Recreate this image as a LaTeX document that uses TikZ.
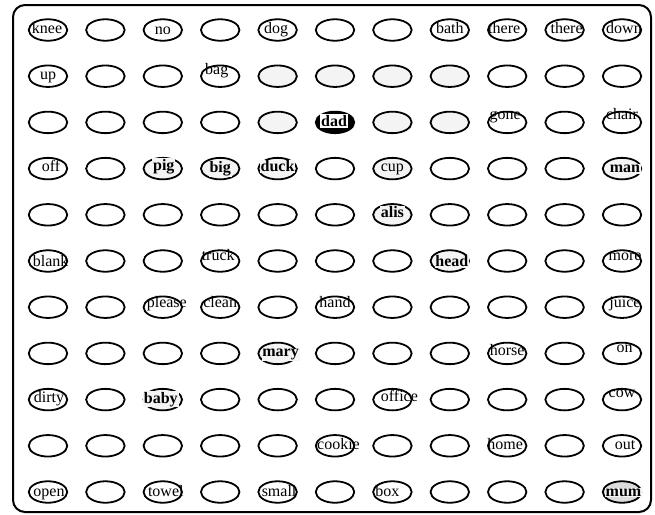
\documentclass[tikz,border=0pt]{standalone}
\usepackage{fontspec}
\setmainfont{Liberation Serif}
\usetikzlibrary{shapes.geometric}
\definecolor{cW}{HTML}{FFFFFF}
\definecolor{cG}{HTML}{F4F4F4}
\definecolor{cK}{HTML}{000000}
\definecolor{cM}{HTML}{DCDCDC}
\begin{document}
\begin{tikzpicture}[x=1pt,y=-1pt,
  cell/.style={ellipse, draw, line width=1.8pt, minimum width=38.5pt, minimum height=21.5pt, inner sep=0pt},
  pl/.style={anchor=base, inner sep=0pt, font=\fontsize{16}{16}\selectfont},
  bd/.style={pl, font=\fontsize{16}{16}\selectfont\bfseries, fill=cG, inner sep=0.8pt},
  cb/.style={pl, fill=cG, inner sep=0.8pt},
  dd/.style={pl, font=\fontsize{16}{16}\selectfont\bfseries, fill=white, inner sep=1pt},
  frame/.style={line width=2pt, rounded corners=12pt}]
\useasboundingbox (0,0) rectangle (655,514);
\draw[frame] (13,5) rectangle (651,512);
\foreach \rowfills [count=\r] in {
  {cW,cW,cW,cW,cW,cW,cW,cW,cW,cW,cW},
  {cW,cW,cW,cW,cG,cG,cG,cG,cW,cW,cW},
  {cW,cW,cW,cW,cG,cK,cG,cG,cW,cW,cW},
  {cW,cW,cG,cG,cG,cW,cG,cW,cW,cW,cG},
  {cW,cW,cW,cW,cW,cW,cG,cW,cW,cW,cW},
  {cW,cW,cW,cW,cW,cW,cW,cG,cW,cW,cW},
  {cW,cW,cW,cW,cW,cW,cW,cW,cW,cW,cW},
  {cW,cW,cW,cW,cG,cW,cW,cW,cW,cW,cW},
  {cW,cW,cG,cW,cW,cW,cW,cW,cW,cW,cW},
  {cW,cW,cW,cW,cW,cW,cW,cW,cW,cW,cW},
  {cW,cW,cW,cW,cW,cW,cW,cW,cW,cW,cM}}
{
  \foreach \f [count=\c] in \rowfills
    \node[cell, fill=\f] (n-\r-\c) at ({48+57.4*(\c-1)}, {30+46.2*(\r-1)}) {};
}
\foreach \r/\c/\t/\dx/\dy/\s in {
  1/1/knee/-1/3.5/pl, 1/3/no/0/4/pl, 1/5/dog/-1.5/3.5/pl, 1/8/bath/0/3.3/pl,
  1/9/there/-3/3/pl, 1/10/there/2/3/pl, 1/11/down/2/3/pl,
  2/1/up/0/3/pl, 2/4/bag/-3.5/-1.5/pl,
  3/6/dad/-1/4/dd, 3/9/gone/-2/-2.5/pl, 3/11/chair/0/-3/pl,
  4/1/off/3/3/pl, 4/3/pig/1/1.5/bd, 4/4/big/0/4/bd, 4/5/duck/0/3/bd,
  4/7/cup/0/3/cb, 4/11/man/3/4/bd,
  5/7/alis/0/3/bd,
  6/1/blank/2.7/5.7/pl, 6/4/truck/-2/-0.5/pl, 6/8/head/2/5.7/bd, 6/11/more/3/-0.5/pl,
  7/3/please/4/0/pl, 7/4/clean/0/0/pl, 7/6/hand/0/0/pl, 7/11/juice/3/0/pl,
  8/5/mary/3/3.5/bd, 8/9/horse/0/2/pl, 8/11/on/2.5/-1.2/pl,
  9/1/dirty/1/3/pl, 9/3/baby/-2/3.5/bd, 9/7/office/7/1.5/pl, 9/11/cow/0/-2.5/pl,
  10/6/cookie/3.5/4/pl, 10/9/home/-2/4/pl, 10/11/out/3/4/pl,
  11/1/open/1/4.7/pl, 11/3/towel/3/4.7/pl, 11/5/small/1.5/4.7/pl,
  11/7/box/-5/4.7/pl, 11/11/mum/1.5/4/bd}
  \node[\s] (t-\r-\c) at ([shift={(\dx,\dy)}] n-\r-\c.center) {\t};
\end{tikzpicture}
\end{document}
